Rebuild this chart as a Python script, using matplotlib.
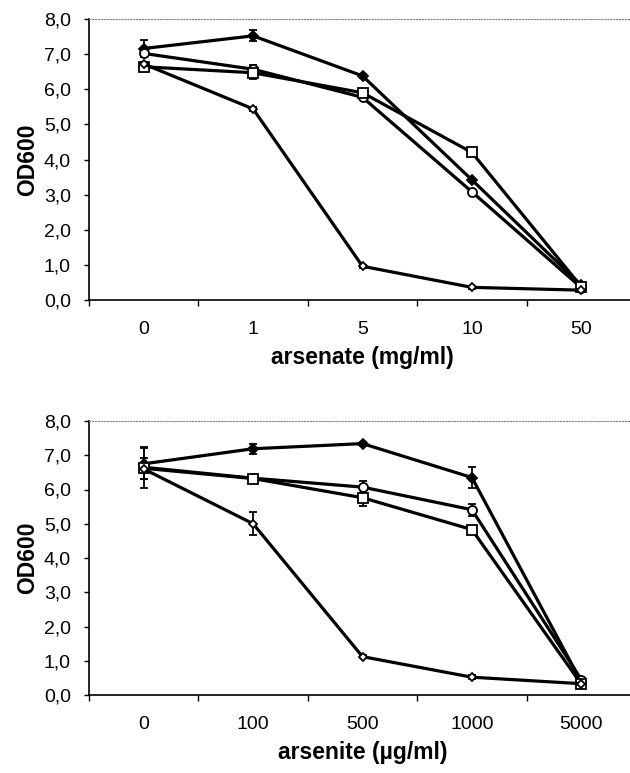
import numpy as np
import matplotlib
matplotlib.use("Agg")
import matplotlib.pyplot as plt

plt.rcParams['font.family'] = ['Liberation Sans', 'DejaVu Sans']

# arsenate panel (mg/ml)
arsenate_labels = ['0', '1', '5', '10', '50']
ate_filled = [7.16, 7.52, 6.38, 3.42, 0.42]
ate_filled_err = [0.25, 0.16, 0.05, 0.05, 0.05]
ate_circle = [7.02, 6.57, 5.77, 3.08, 0.35]
ate_circle_err = [0.05, 0.12, 0.05, 0.05, 0.05]
ate_square = [6.64, 6.47, 5.9, 4.2, 0.38]
ate_square_err = [0.1, 0.17, 0.05, 0.1, 0.05]
ate_diamond = [6.72, 5.44, 0.96, 0.36, 0.28]
ate_diamond_err = [0.05, 0.05, 0.05, 0.05, 0.05]

# arsenite panel (ug/ml)
arsenite_labels = ['0', '100', '500', '1000', '5000']
ite_filled = [6.75, 7.19, 7.34, 6.35, 0.38]
ite_filled_err = [0.45, 0.15, 0.05, 0.3, 0.05]
ite_circle = [6.65, 6.33, 6.07, 5.41, 0.45]
ite_circle_err = [0.6, 0.05, 0.17, 0.17, 0.05]
ite_square = [6.62, 6.32, 5.76, 4.83, 0.32]
ite_square_err = [0.3, 0.08, 0.23, 0.08, 0.05]
ite_diamond = [6.6, 5.0, 1.12, 0.52, 0.33]
ite_diamond_err = [0.1, 0.34, 0.05, 0.05, 0.05]

yticks = [0, 1, 2, 3, 4, 5, 6, 7, 8]


def panel(ax, labels, series, xlabel):
    x = np.arange(len(labels))
    styles = [('D', 'black', 5.5), ('o', 'white', 6.5), ('s', 'white', 6.5), ('D', 'white', 4.5)]
    for (vals, err), (mk, fc, ms) in zip(series, styles):
        ax.errorbar(x, vals, yerr=err, color='black', lw=2.3, marker=mk, ms=ms,
                    mfc=fc, mec='black', mew=1.3, elinewidth=1.3, capsize=3, capthick=1.3,
                    clip_on=False)
    ax.set_xlim(-0.5, len(labels) - 0.5)
    ax.set_ylim(0, 8)
    ax.set_yticks(yticks)
    ax.set_yticklabels(['%d,0' % v for v in yticks], fontsize=14)
    ax.set_xticks(x)
    ax.set_xticklabels(labels, fontsize=14)
    ax.set_xticks(np.arange(len(labels) + 1) - 0.5, minor=True)
    ax.tick_params(axis='x', which='major', length=0, pad=15)
    ax.tick_params(axis='x', which='minor', length=4.5, width=1, direction='out')
    ax.tick_params(axis='y', length=3.6, width=1, direction='out', pad=9.5)
    ax.spines['right'].set_visible(False)
    ax.spines['top'].set_color('gray')
    ax.spines['top'].set_linestyle(':')
    ax.spines['left'].set_linewidth(1.2)
    ax.spines['bottom'].set_linewidth(1.2)
    ax.set_ylabel('OD600', fontsize=16.5, fontweight='bold', labelpad=3)
    ax.set_xlabel(xlabel, fontsize=16.5, fontweight='bold', labelpad=6)


fig = plt.figure(figsize=(6.3, 7.73), dpi=100)
ax1 = fig.add_axes([89 / 630, 1 - 300 / 773, 547 / 630, 281 / 773])
ax2 = fig.add_axes([89 / 630, 1 - 695 / 773, 547 / 630, 274 / 773])

panel(ax1, arsenate_labels,
      [(ate_filled, ate_filled_err), (ate_circle, ate_circle_err),
       (ate_square, ate_square_err), (ate_diamond, ate_diamond_err)],
      'arsenate (mg/ml)')
panel(ax2, arsenite_labels,
      [(ite_filled, ite_filled_err), (ite_circle, ite_circle_err),
       (ite_square, ite_square_err), (ite_diamond, ite_diamond_err)],
      'arsenite (\u00b5g/ml)')

fig.savefig('out.png', dpi=100)
